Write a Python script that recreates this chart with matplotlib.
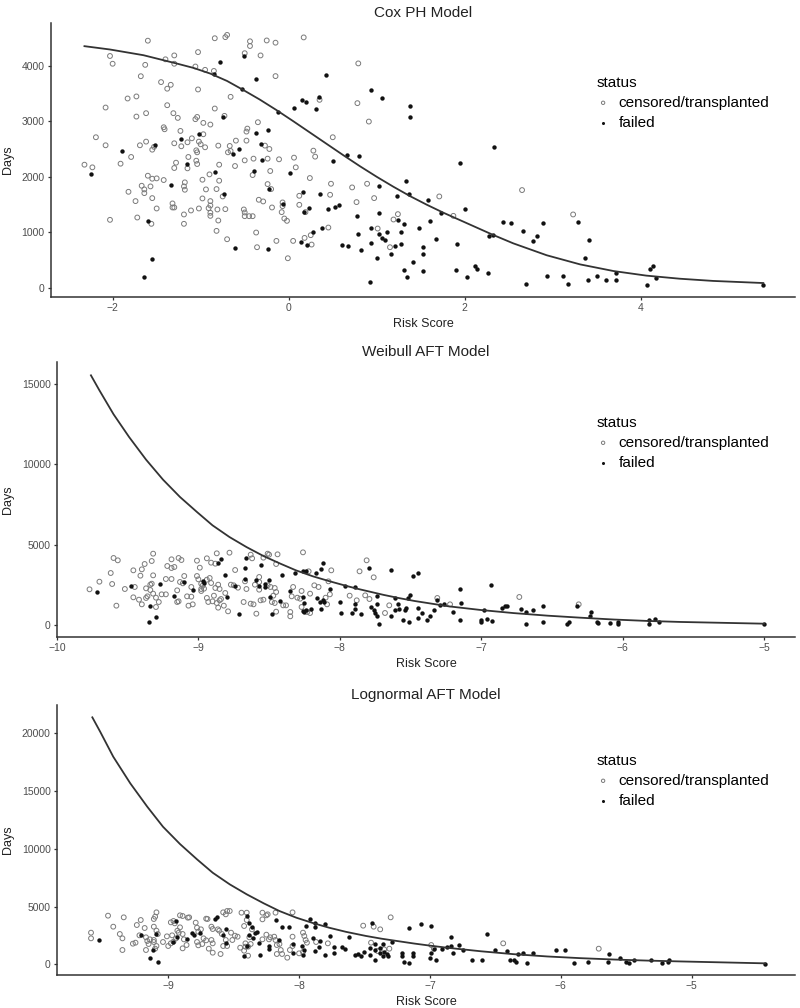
import numpy as np
import matplotlib.pyplot as plt

plt.rcParams['font.family'] = ['Liberation Sans', 'DejaVu Sans']

# ---- Cox PH model: (risk score, days) ----
cox_censored = [
    (-1.60, 4456), (-0.84, 4500), (-0.72, 4520), (-0.70, 4560), (-0.44, 4445), (-0.44, 4360),
    (-0.25, 4460), (-0.15, 4420), (0.17, 4515), (-2.03, 4180), (-2.00, 4040), (-1.63, 4020),
    (-1.68, 3815), (-1.30, 4190), (-1.40, 4120), (-1.30, 4040), (-1.03, 4250), (-1.06, 3990),
    (-0.95, 3930), (-0.85, 3910), (-0.50, 4230), (-0.32, 4190), (-0.15, 3817), (0.79, 4046),
    (-1.45, 3709), (-1.34, 3660), (-1.38, 3590), (-1.03, 3576), (-0.66, 3443), (-0.84, 3232),
    (-1.83, 3413), (-1.73, 3450), (-2.08, 3250), (-1.73, 3087), (-1.62, 3148), (-1.38, 3292),
    (-1.31, 3148), (-1.26, 3063), (-1.06, 3040), (-1.04, 3080), (-0.73, 3100), (0.35, 3389),
    (0.78, 3329), (0.91, 2997), (0.50, 2714), (0.28, 2472), (0.30, 2364), (-2.19, 2714),
    (-2.08, 2569), (-2.32, 2219), (-2.23, 2171), (-1.79, 2358), (-1.91, 2237), (-1.69, 2569),
    (-1.62, 2635), (-1.55, 2490), (-1.53, 2540), (-1.42, 2894), (-1.41, 2858), (-1.30, 2605),
    (-1.23, 2828), (-1.22, 2551), (-1.15, 2623), (-1.10, 2695), (-1.05, 2478), (-1.04, 2442),
    (-1.02, 2635), (-0.97, 2973), (-0.97, 2768), (-0.89, 2943), (-1.00, 2587), (-0.95, 2533),
    (-1.14, 2358), (-1.28, 2255), (-1.30, 2159), (-1.15, 2153), (-1.05, 2291), (-1.04, 2231),
    (-0.80, 2563), (-0.67, 2557), (-0.66, 2466), (-0.69, 2442), (-0.60, 2653), (-0.48, 2653),
    (-0.47, 2870), (-0.48, 2816), (-0.35, 2985), (-0.27, 2563), (-0.22, 2502), (-0.40, 2328),
    (-0.50, 2297), (-0.24, 2328), (-0.11, 2316), (0.06, 2346), (0.08, 2171), (0.24, 1978),
    (-0.21, 2105), (-0.41, 2032), (-0.61, 2195), (-0.79, 2219), (-0.90, 2044), (-0.98, 1948),
    (-0.79, 1930), (-1.60, 2020), (-1.55, 1966), (-1.50, 1972), (-1.42, 1942), (-1.55, 1616),
    (-1.67, 1839), (-1.64, 1773), (-1.64, 1706), (-1.57, 1827), (-1.82, 1730), (-1.74, 1562),
    (-1.50, 1429), (-2.03, 1224), (-1.72, 1266), (-1.56, 1152), (-1.19, 1827), (-1.18, 1767),
    (-1.18, 1900), (-1.32, 1520), (-1.32, 1447), (-1.30, 1447), (-1.19, 1321), (-1.19, 1152),
    (-1.11, 1393), (-1.02, 1429), (-0.98, 1610), (-0.94, 1773), (-0.89, 1562), (-0.89, 1483),
    (-0.89, 1351), (-0.89, 1296), (-0.91, 1435), (-0.82, 1779), (-0.75, 1646), (-0.81, 1411),
    (-0.72, 1417), (-0.80, 1212), (-0.82, 1025), (-0.70, 874), (-0.51, 1411), (-0.50, 1357),
    (-0.50, 1290), (-0.45, 1290), (-0.41, 1290), (-0.37, 995), (-0.36, 730), (-0.34, 1586),
    (-0.29, 1556), (-0.19, 1447), (-0.24, 1869), (-0.20, 1779), (-0.07, 1538), (-0.07, 1471),
    (-0.08, 1363), (-0.14, 844), (-0.05, 1248), (-0.02, 1206), (-0.01, 531), (0.05, 844),
    (0.12, 1495), (0.12, 1658), (0.19, 1363), (0.18, 898), (0.25, 947), (0.26, 778),
    (0.48, 1875), (0.47, 1676), (0.45, 1085), (0.72, 1809), (0.77, 1544), (0.89, 1875),
    (0.97, 1616), (1.01, 1067), (1.15, 730), (1.19, 1230), (1.24, 1327), (1.71, 1646),
    (1.87, 1296), (2.65, 1761), (3.23, 1321),
]
cox_failed = [
    (-0.85, 3850), (-0.78, 4070), (-0.51, 4185), (-0.37, 3757), (0.42, 3835), (-0.53, 3576),
    (-0.75, 3087), (-0.12, 3172), (0.06, 3238), (0.15, 3389), (0.20, 3353), (0.34, 3437),
    (0.31, 3220), (0.94, 3564), (1.06, 3425), (0.66, 2400), (0.80, 2382), (0.50, 2285),
    (-2.25, 2050), (-1.89, 2460), (-1.52, 2581), (-1.22, 2690), (-1.02, 2768), (-1.15, 2225),
    (-0.63, 2412), (-0.57, 2496), (-0.37, 2792), (-0.24, 2846), (-0.31, 2599), (-0.30, 2297),
    (0.02, 2074), (-0.39, 2098), (-0.84, 2086), (-1.34, 1845), (-1.60, 1206), (-0.74, 1694),
    (-0.61, 712), (-0.23, 694), (-0.22, 1785), (-0.07, 1507), (0.16, 1730), (0.17, 1363),
    (0.23, 1435), (0.14, 820), (0.21, 778), (0.27, 1000), (0.36, 1688), (0.38, 1073),
    (0.45, 1423), (0.53, 1459), (0.57, 1495), (0.78, 1290), (0.61, 766), (0.67, 754),
    (0.79, 971), (0.82, 675), (1.02, 1827), (1.02, 1351), (0.92, 109), (0.94, 802),
    (0.94, 1079), (1.00, 543), (1.03, 977), (1.06, 904), (1.09, 856), (1.12, 1007),
    (1.16, 603), (1.21, 760), (1.23, 1652), (1.24, 1230), (1.38, 3280), (1.38, 3087),
    (2.33, 2539), (1.95, 2249), (1.33, 1918), (1.37, 1694), (1.58, 1574), (1.31, 1152),
    (1.60, 1212), (1.73, 1351), (2.00, 1411), (3.29, 1188), (2.43, 1188), (2.53, 1170),
    (2.89, 1170), (2.66, 1025), (2.82, 941), (2.77, 850), (1.48, 1079), (1.27, 1000),
    (1.67, 886), (1.91, 796), (2.28, 935), (2.32, 959), (1.27, 796), (1.52, 730),
    (1.53, 609), (1.41, 458), (1.31, 320), (1.34, 187), (1.53, 308), (1.90, 326),
    (2.11, 386), (2.14, 344), (2.03, 187), (2.26, 259), (2.69, 66), (2.93, 205),
    (3.11, 217), (3.17, 72), (3.36, 543), (3.41, 856), (3.40, 145), (3.50, 217),
    (3.60, 133), (3.72, 259), (3.72, 133), (4.07, 48), (4.10, 338), (4.14, 398),
    (4.17, 175), (5.39, 42), (-1.64, 193), (-1.55, 513),
]
cox_curve_x = [-2.32, -2.03, -1.65, -1.27, -1.08, -0.89, -0.70, -0.52, -0.33, -0.14,
               0.05, 0.24, 0.43, 0.62, 0.81, 1.00, 1.19, 1.38, 1.57, 1.76,
               2.32, 2.55, 2.93, 3.31, 3.69, 4.06, 4.44, 4.82, 5.39]
cox_curve_y = [4357, 4297, 4194, 4043, 3964, 3862, 3729, 3570, 3395, 3205,
               3005, 2800, 2595, 2390, 2190, 2000, 1820, 1650, 1495, 1350,
               953, 800, 585, 420, 300, 218, 162, 122, 84]

# ---- Weibull AFT model ----
wei_censored = [
    (-9.77, 2235), (-9.70, 2710), (-9.62, 3248), (-9.61, 2566), (-9.60, 4180), (-9.57, 4035),
    (-9.58, 1221), (-9.52, 2255), (-9.46, 3414), (-9.45, 2380), (-9.46, 1738), (-9.42, 1593),
    (-9.40, 1303), (-9.41, 3083), (-9.40, 3476), (-9.38, 3807), (-9.37, 2297), (-9.36, 1800),
    (-9.37, 1697), (-9.34, 2524), (-9.34, 2193), (-9.33, 3993), (-9.32, 4448), (-9.32, 3103),
    (-9.33, 2586), (-9.32, 1966), (-9.30, 1717), (-9.28, 1448), (-9.30, 1138), (-9.26, 1924),
    (-9.23, 1924), (-9.22, 3683), (-9.19, 4097), (-9.17, 3621), (-9.19, 3559), (-9.23, 2876),
    (-9.19, 2876), (-9.15, 1448), (-9.14, 1490), (-9.15, 2172), (-9.14, 4180), (-9.12, 4055),
    (-9.13, 2690), (-9.11, 2607), (-9.10, 3062), (-9.08, 1800), (-9.07, 1221), (-9.05, 2380),
    (-9.05, 1779), (-9.01, 4014), (-8.99, 3579), (-9.01, 3062), (-9.00, 2855), (-9.04, 1303),
    (-8.98, 2586), (-8.97, 2462), (-8.96, 2276), (-8.98, 2255), (-8.98, 2131), (-8.94, 2834),
    (-8.92, 2938), (-8.91, 2628), (-8.94, 4159), (-8.91, 3890), (-8.88, 3828), (-8.94, 1700),
    (-8.93, 1450), (-8.90, 1490), (-8.89, 1841), (-8.87, 1386), (-8.85, 1552), (-8.88, 2317),
    (-8.86, 2524), (-8.85, 2255), (-8.87, 4469), (-8.86, 1097), (-8.82, 1221), (-8.81, 2007),
    (-8.84, 1634), (-8.79, 869), (-8.78, 4510), (-8.77, 2524), (-8.75, 2483), (-8.72, 2338),
    (-8.74, 3434), (-8.68, 1448), (-8.66, 2255), (-8.67, 2731), (-8.63, 4386), (-8.62, 4159),
    (-8.63, 1345), (-8.61, 1303), (-8.59, 724), (-8.60, 2524), (-8.57, 3000), (-8.57, 2690),
    (-8.57, 2214), (-8.54, 1593), (-8.56, 1552), (-8.54, 4200), (-8.51, 4448), (-8.50, 4386),
    (-8.51, 2483), (-8.49, 2380), (-8.46, 2317), (-8.47, 1841), (-8.48, 1448), (-8.46, 1386),
    (-8.45, 848), (-8.44, 4407), (-8.45, 3807), (-8.45, 2069), (-8.40, 1241), (-8.38, 1241),
    (-8.35, 828), (-8.35, 559), (-8.33, 2380), (-8.34, 1800), (-8.30, 1717), (-8.28, 1655),
    (-8.26, 4531), (-8.22, 3352), (-8.27, 2131), (-8.27, 1138), (-8.23, 828), (-8.21, 766),
    (-8.21, 1966), (-8.18, 2483), (-8.15, 2380), (-8.06, 3414), (-8.08, 2731), (-8.07, 1924),
    (-8.10, 1717), (-8.09, 1303), (-7.93, 1841), (-7.88, 1552), (-7.81, 4035), (-7.86, 3352),
    (-7.76, 2979), (-7.82, 1862), (-7.79, 1634), (-7.68, 766), (-7.65, 1241), (-7.31, 1697),
    (-7.22, 1303), (-6.73, 1759), (-6.31, 1303),
]
wei_failed = [
    (-9.72, 2069), (-9.48, 2462), (-9.35, 186), (-9.34, 1200), (-9.30, 517), (-9.27, 2586),
    (-9.17, 1841), (-9.10, 2690), (-9.04, 2214), (-8.97, 2752), (-8.96, 2648), (-8.86, 3890),
    (-8.84, 4097), (-8.80, 1738), (-8.81, 3103), (-8.74, 2441), (-8.71, 703), (-8.67, 2876),
    (-8.67, 3579), (-8.66, 4200), (-8.59, 2793), (-8.57, 2421), (-8.56, 3745), (-8.53, 2586),
    (-8.53, 2380), (-8.50, 2834), (-8.49, 1779), (-8.48, 703), (-8.41, 3145), (-8.42, 1490),
    (-8.35, 2131), (-8.32, 3269), (-8.26, 3372), (-8.24, 3352), (-8.26, 1759), (-8.25, 1366),
    (-8.26, 890), (-8.25, 828), (-8.24, 931), (-8.20, 1014), (-8.17, 3248), (-8.16, 1676),
    (-8.14, 1448), (-8.12, 1593), (-8.11, 1448), (-8.13, 3476), (-8.12, 3848), (-8.07, 2255),
    (-8.13, 1034), (-8.00, 1448), (-7.99, 766), (-7.96, 2421), (-7.91, 766), (-7.89, 1014),
    (-7.89, 1345), (-7.89, 2380), (-7.79, 3579), (-7.85, 683), (-7.78, 1138), (-7.76, 931),
    (-7.75, 786), (-7.74, 1303), (-7.74, 559), (-7.72, 83), (-7.74, 1841), (-7.64, 3434),
    (-7.64, 600), (-7.61, 931), (-7.61, 1697), (-7.59, 1345), (-7.58, 1014), (-7.48, 3083),
    (-7.45, 3269), (-7.50, 1903), (-7.52, 1697), (-7.53, 1097), (-7.54, 931), (-7.45, 1097),
    (-7.42, 766), (-7.45, 476), (-7.36, 559), (-7.38, 310), (-7.55, 310), (-7.51, 186),
    (-7.31, 1593), (-7.33, 931), (-7.29, 1241), (-7.26, 1345), (-7.20, 807), (-7.15, 2276),
    (-7.14, 1407), (-7.15, 352), (-7.00, 352), (-7.00, 207), (-6.96, 414), (-6.92, 269),
    (-6.98, 931), (-6.93, 2524), (-6.85, 1097), (-6.83, 1180), (-6.82, 1180), (-6.72, 1034),
    (-6.68, 828), (-6.63, 931), (-6.56, 1180), (-6.68, 62), (-6.56, 207), (-6.39, 83),
    (-6.38, 207), (-6.32, 1180), (-6.22, 848), (-6.23, 559), (-6.18, 207), (-6.17, 145),
    (-6.09, 145), (-6.03, 207), (-6.03, 103), (-5.81, 352), (-5.81, 62), (-5.77, 414),
    (-5.74, 186), (-5.00, 62),
]
wei_curve_x = [-9.76, -9.70, -9.60, -9.49, -9.37, -9.25, -9.13, -9.01, -8.90, -8.78,
               -8.66, -8.54, -8.42, -8.31, -8.19, -8.07, -7.95, -7.88, -7.69, -7.58,
               -7.47, -7.23, -7.00, -6.77, -6.53, -6.30, -6.06, -5.83, -5.59, -5.00]
wei_curve_y = [15518, 14586, 13100, 11688, 10283, 9041, 7965, 7034, 6207, 5481,
               4860, 4303, 3828, 3414, 3042, 2731, 2440, 2280, 1890, 1690,
               1510, 1180, 950, 760, 600, 476, 360, 275, 210, 103]

# ---- Lognormal AFT model ----
logn_censored = [
    (-9.59, 2742), (-9.59, 2251), (-9.46, 4214), (-9.42, 3261), (-9.37, 2626), (-9.35, 2251),
    (-9.35, 1241), (-9.34, 4069), (-9.27, 1789), (-9.25, 1876), (-9.22, 2511), (-9.24, 3405),
    (-9.21, 3838), (-9.18, 3146), (-9.17, 2338), (-9.16, 2020), (-9.17, 1241), (-9.14, 2164),
    (-9.15, 1760), (-9.11, 3925), (-9.10, 4127), (-9.09, 4502), (-9.11, 3261), (-9.09, 2915),
    (-9.08, 2626), (-9.11, 2107), (-9.11, 1934), (-9.09, 1587), (-9.10, 1356), (-9.04, 1934),
    (-9.01, 2424), (-9.00, 1587), (-8.98, 1818), (-8.96, 1962), (-8.98, 3636), (-8.96, 3752),
    (-8.95, 3550), (-8.97, 2511), (-8.94, 2251), (-8.93, 2915), (-8.92, 2742), (-8.91, 4242),
    (-8.89, 4185), (-8.85, 4040), (-8.84, 4069), (-8.91, 3204), (-8.89, 2626), (-8.88, 2164),
    (-8.86, 1674), (-8.89, 1385), (-8.79, 3608), (-8.78, 3175), (-8.77, 2828), (-8.75, 3030),
    (-8.78, 1934), (-8.77, 1645), (-8.74, 1760), (-8.73, 2251), (-8.71, 2078), (-8.69, 1356),
    (-8.66, 1010), (-8.66, 1818), (-8.67, 2107), (-8.71, 3954), (-8.70, 3925), (-8.67, 3261),
    (-8.66, 3059), (-8.62, 3030), (-8.61, 2915), (-8.59, 2626), (-8.58, 1587), (-8.56, 2107),
    (-8.55, 1587), (-8.60, 895), (-8.58, 4502), (-8.56, 4329), (-8.55, 4618), (-8.53, 4618),
    (-8.52, 2742), (-8.49, 2482), (-8.47, 2395), (-8.51, 2107), (-8.45, 1443), (-8.42, 1183),
    (-8.39, 750), (-8.44, 4473), (-8.40, 4473), (-8.42, 3319), (-8.40, 3838), (-8.41, 1530),
    (-8.36, 3030), (-8.38, 2338), (-8.37, 1760), (-8.41, 1818), (-8.39, 1530), (-8.28, 4473),
    (-8.25, 4242), (-8.24, 4329), (-8.28, 3896), (-8.28, 2164), (-8.25, 2569), (-8.23, 2164),
    (-8.22, 2338), (-8.18, 4473), (-8.19, 2395), (-8.18, 2107), (-8.17, 1674), (-8.15, 1760),
    (-8.14, 1241), (-8.17, 895), (-8.13, 895), (-8.09, 577), (-8.05, 2395), (-8.05, 1587),
    (-8.07, 1241), (-8.05, 4502), (-7.97, 2742), (-7.96, 2453), (-7.95, 2107), (-7.94, 1876),
    (-8.00, 952), (-7.97, 1068), (-7.87, 1934), (-7.78, 1818), (-7.51, 3348), (-7.43, 3261),
    (-7.38, 3030), (-7.30, 4069), (-7.45, 1876), (-7.40, 1154), (-7.35, 1299), (-7.31, 1356),
    (-6.99, 1674), (-6.97, 1356), (-6.44, 1818), (-5.71, 1356),
]
logn_failed = [
    (-9.53, 2107), (-9.21, 2511), (-9.14, 519), (-9.12, 1241), (-9.09, 2626), (-9.08, 231),
    (-8.96, 1962), (-8.93, 2395), (-8.94, 3723), (-8.86, 2222), (-8.82, 2684), (-8.80, 2569),
    (-8.76, 2742), (-8.64, 3925), (-8.63, 4069), (-8.58, 2511), (-8.56, 3088), (-8.56, 1818),
    (-8.42, 750), (-8.40, 4214), (-8.38, 3608), (-8.36, 3261), (-8.38, 2511), (-8.35, 2251),
    (-8.34, 2742), (-8.32, 2828), (-8.40, 1616), (-8.31, 1818), (-8.30, 808), (-8.23, 1587),
    (-8.23, 1356), (-8.18, 3838), (-8.13, 3204), (-8.08, 3261), (-8.15, 2107), (-8.05, 1760),
    (-8.05, 952), (-7.98, 1587), (-7.97, 837), (-7.96, 1241), (-7.95, 3348), (-7.92, 3896),
    (-7.88, 3261), (-7.88, 3550), (-7.89, 2309), (-7.88, 1126), (-7.85, 1530), (-7.84, 1991),
    (-7.80, 3463), (-7.80, 808), (-7.76, 2453), (-7.73, 1530), (-7.73, 1010), (-7.67, 1530),
    (-7.65, 1356), (-7.62, 2395), (-7.57, 808), (-7.55, 895), (-7.53, 721), (-7.50, 1068),
    (-7.44, 3608), (-7.46, 1414), (-7.46, 779), (-7.42, 1760), (-7.42, 1241), (-7.42, 346),
    (-7.38, 1414), (-7.38, 952), (-7.36, 721), (-7.36, 1760), (-7.35, 1097), (-7.33, 895),
    (-7.32, 721), (-7.29, 1962), (-7.16, 3117), (-7.07, 3463), (-6.99, 3290), (-7.21, 1010),
    (-7.21, 721), (-7.13, 1010), (-7.13, 721), (-7.20, 202), (-7.16, 87), (-6.84, 2395),
    (-6.84, 1587), (-6.82, 1010), (-6.99, 1010), (-6.97, 1356), (-7.00, 519), (-6.95, 375),
    (-6.91, 1356), (-6.87, 1530), (-6.78, 1645), (-6.75, 1241), (-6.68, 375), (-6.60, 375),
    (-6.56, 2626), (-6.50, 1241), (-6.41, 1126), (-6.39, 375), (-6.36, 375), (-6.34, 231),
    (-6.33, 895), (-6.29, 952), (-6.26, 87), (-6.21, 952), (-6.04, 1241), (-5.97, 1241),
    (-5.90, 87), (-5.79, 231), (-5.63, 895), (-5.64, 231), (-5.55, 577), (-5.50, 231),
    (-5.48, 144), (-5.44, 375), (-5.31, 375), (-5.23, 87), (-5.18, 231), (-5.17, 375),
    (-4.44, 29),
]
logn_curve_x = [-9.58, -9.52, -9.42, -9.29, -9.16, -9.04, -8.91, -8.78, -8.66, -8.53,
                -8.40, -8.27, -8.15, -8.02, -7.89, -7.77, -7.64, -7.49, -7.37, -7.12,
                -7.00, -6.87, -6.61, -6.36, -6.10, -5.85, -5.59, -5.34, -5.08, -4.44]
logn_curve_y = [21385, 20140, 17974, 15671, 13645, 11913, 10415, 9091, 7931, 6926,
                6061, 5281, 4615, 4035, 3560, 3170, 2810, 2460, 2220, 1800,
                1620, 1440, 1130, 880, 680, 535, 415, 325, 250, 87]

panel_titles = ['Cox PH Model', 'Weibull AFT Model', 'Lognormal AFT Model']
panel_xticks = [[-2, 0, 2, 4], [-10, -9, -8, -7, -6, -5], [-9, -8, -7, -6, -5]]
panel_yticks = [[0, 1000, 2000, 3000, 4000], [0, 5000, 10000, 15000],
                [0, 5000, 10000, 15000, 20000]]
panel_xlim = [(-2.70, 5.75), (-10.0, -4.78), (-9.85, -4.21)]
panel_ylim = [(-168, 4775), (-724, 16345), (-923, 22453)]

# axes boxes in pixels: left, top, right, bottom
W, H = 800, 1008
boxes = [(51, 23, 795, 297), (57, 362, 795, 637), (57, 705, 795, 975)]

TEXT_GREY = '#4d4d4d'
LINE_DARK = '#333333'


def draw_panel(fig, box, title, censored, failed, cx, cy, xticks, yticks, xlim, ylim):
    l, t, r, b = box
    ax = fig.add_axes([l / W, 1 - b / H, (r - l) / W, (b - t) / H])
    cens = np.array(censored)
    fail = np.array(failed)

    ax.scatter(cens[:, 0], cens[:, 1], s=12, facecolors='none', edgecolors='#7a7a7a',
               linewidths=0.7, label='censored/transplanted', zorder=2)
    ax.scatter(fail[:, 0], fail[:, 1], s=10, color='#111111', linewidths=0,
               label='failed', zorder=3)
    ax.plot(cx, cy, color=LINE_DARK, lw=1.3, zorder=4, solid_joinstyle='round')

    ax.set_xlim(*xlim)
    ax.set_ylim(*ylim)
    ax.set_xticks(xticks)
    ax.set_yticks(yticks)
    ax.tick_params(axis='both', labelsize=7.5, labelcolor=TEXT_GREY, color=LINE_DARK,
                   length=2.5, width=0.9, pad=2)

    for side in ['top', 'right']:
        ax.spines[side].set_visible(False)
    for side in ['left', 'bottom']:
        ax.spines[side].set_color(LINE_DARK)
        ax.spines[side].set_linewidth(1.1)

    ax.set_title(title, fontsize=11, color='#222222', pad=4.5)
    ax.set_xlabel('Risk Score', fontsize=9, color='#222222')
    ax.set_ylabel('Days', fontsize=9, color='#222222')
    ax.xaxis.set_label_coords(0.5, -21 / (b - t))
    ax.yaxis.set_label_coords((14 - l) / (r - l), 0.5)

    # legend block: 'status' title top sits ~221 px above the x axis
    ax.legend(loc='upper left', bbox_to_anchor=((597 - l) / (r - l), 221 / (b - t)),
              frameon=False, title='status', fontsize=11, title_fontsize=11,
              alignment='left', borderpad=0, borderaxespad=0, handlelength=0.8,
              handletextpad=0.6, labelspacing=0.38, markerscale=0.7)
    return ax


fig = plt.figure(figsize=(W / 100, H / 100), dpi=100)
fig.patch.set_facecolor('white')

draw_panel(fig, boxes[0], panel_titles[0], cox_censored, cox_failed, cox_curve_x, cox_curve_y,
           panel_xticks[0], panel_yticks[0], panel_xlim[0], panel_ylim[0])
draw_panel(fig, boxes[1], panel_titles[1], wei_censored, wei_failed, wei_curve_x, wei_curve_y,
           panel_xticks[1], panel_yticks[1], panel_xlim[1], panel_ylim[1])
draw_panel(fig, boxes[2], panel_titles[2], logn_censored, logn_failed, logn_curve_x, logn_curve_y,
           panel_xticks[2], panel_yticks[2], panel_xlim[2], panel_ylim[2])

fig.savefig('out.png', dpi=100)
